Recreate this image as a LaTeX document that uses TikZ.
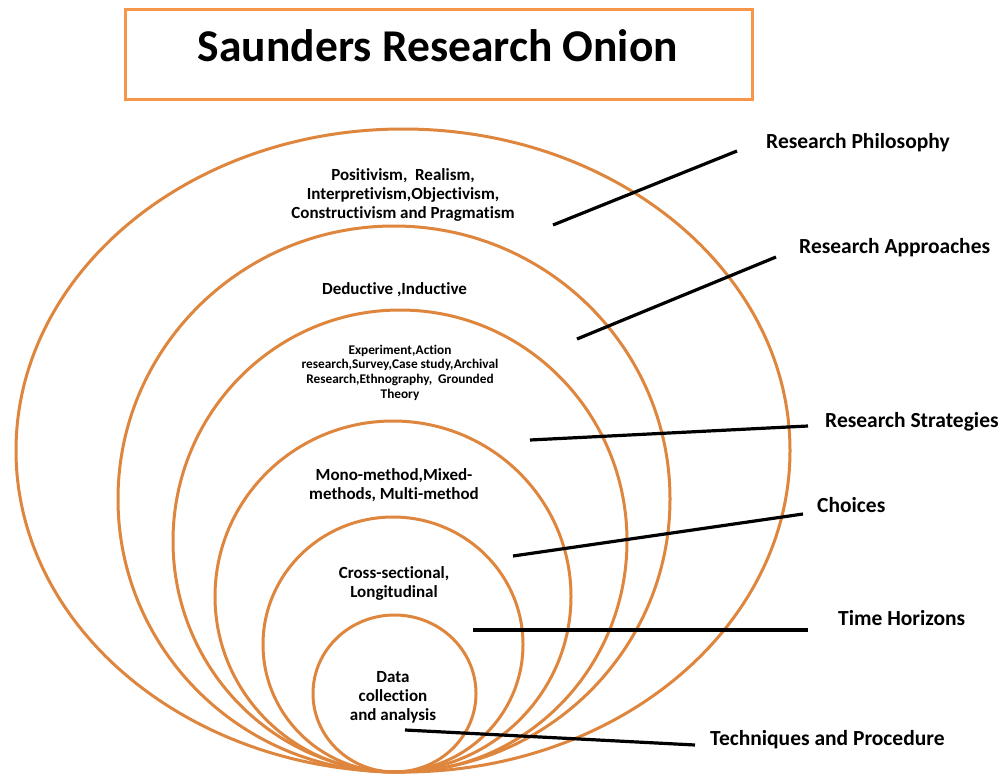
\documentclass[tikz,border=0pt]{standalone}
\usepackage{fontspec}
\setmainfont{Carlito}[Ligatures=NoCommon]
\usetikzlibrary{shapes.geometric}
\definecolor{onion}{RGB}{222,134,62}
\definecolor{boxorange}{RGB}{246,150,72}
\begin{document}
\begin{tikzpicture}[x=1pt,y=-1pt,
  layer/.style={ellipse, draw=onion, line width=3pt, inner sep=0pt},
  lbl/.style={font=\fontsize{21.5}{26}\selectfont\bfseries, anchor=base west, inner sep=0pt},
  ringtxt/.style={font=\fontsize{17}{19}\selectfont\bfseries, align=center, inner sep=0pt, anchor=base},
  smalltxt/.style={font=\fontsize{13.3}{14.6}\selectfont\bfseries, align=center, inner sep=0pt, anchor=base},
  lead/.style={draw=black, line width=3.2pt}]
\useasboundingbox (0,0) rectangle (1003,776);

% title box
\node[draw=boxorange, line width=3pt, minimum width=627pt, minimum height=89pt, inner sep=0pt] (titlebox) at (438.5,54.5) {};
\node[font=\fontsize{45.5}{50}\selectfont\bfseries, anchor=base, inner sep=0pt] (title) at (438,62) {Saunders Research Onion};

% onion layers, all touching at the bottom
\node[layer, minimum width=774pt, minimum height=643pt] (l1) at (403,450.5) {};
\node[layer, minimum width=552pt, minimum height=546pt] (l2) at (394,499) {};
\node[layer, minimum width=454pt, minimum height=462pt] (l3) at (400,541) {};
\node[layer, minimum width=356pt, minimum height=351pt] (l4) at (393,596.5) {};
\node[layer, minimum width=260pt, minimum height=255pt] (l5) at (393,644.5) {};
\node[layer, minimum width=163pt, minimum height=157pt] (l6) at (394.5,693.5) {};

% layer contents (base anchor sits on the last line)
\node[ringtxt] (t1) at (403,218) {Positivism,\ \ Realism,\\Interpretivism,Objectivism,\\Constructivism and Pragmatism};
\node[ringtxt] (t2) at (394.5,294) {Deductive ,Inductive};
\node[smalltxt] (t3) at (400,398) {Experiment,Action\\research,Survey,Case study,Archival\\Research,Ethnography,\ \ Grounded\\Theory};
\node[ringtxt] (t4) at (394,499) {Mono-method,Mixed-\\methods, Multi-method};
\node[ringtxt] (t5) at (394,597) {Cross-sectional,\\Longitudinal};
\node[ringtxt] (t6) at (393,720) {Data\\collection\\and analysis};

% leader line end points
\coordinate (p1a) at (553,225); \coordinate (p1b) at (737,151);
\coordinate (p2a) at (577,339); \coordinate (p2b) at (776,257);
\coordinate (p3a) at (530,440); \coordinate (p3b) at (808,426);
\coordinate (p4a) at (513,556); \coordinate (p4b) at (803,514);
\coordinate (p5a) at (473,630); \coordinate (p5b) at (808,630);
\coordinate (p6a) at (405,730); \coordinate (p6b) at (695,745);

\draw[lead] (p1a) -- (p1b);
\draw[lead] (p2a) -- (p2b);
\draw[lead] (p3a) -- (p3b);
\draw[lead] (p4a) -- (p4b);
\draw[lead] (p5a) -- (p5b);
\draw[lead] (p6a) -- (p6b);

% layer names
\node[lbl] (n1) at (766,148) {Research Philosophy};
\node[lbl] (n2) at (799,253) {Research Approaches};
\node[lbl] (n3) at (825,427) {Research Strategies};
\node[lbl] (n4) at (817,512) {Choices};
\node[lbl] (n5) at (838,625) {Time Horizons};
\node[lbl] (n6) at (710,745) {Techniques and Procedure};
\end{tikzpicture}
\end{document}
